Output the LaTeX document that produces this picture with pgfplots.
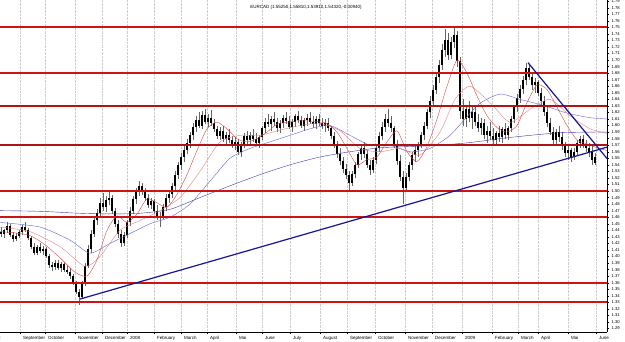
\documentclass[border=0pt]{standalone}
\usepackage{pgfplots}
\usepackage{pgfplotstable}
\pgfplotsset{compat=1.18}
\usepackage{fontspec}
\setmainfont{Liberation Sans}
\definecolor{lvl}{RGB}{205,20,20}
\definecolor{lvldark}{RGB}{175,20,20}
\definecolor{trend}{RGB}{20,20,150}
\definecolor{maredA}{RGB}{220,70,70}
\definecolor{maredB}{RGB}{230,130,130}
\definecolor{mablueA}{RGB}{100,100,210}
\definecolor{mablueB}{RGB}{60,60,170}
\pgfplotstableread{
x o h l c
1 1.438 1.445 1.430 1.434
4 1.434 1.442 1.428 1.440
7 1.440 1.452 1.436 1.447
10 1.447 1.450 1.430 1.433
13 1.433 1.437 1.422 1.427
16 1.427 1.436 1.423 1.432
19 1.432 1.440 1.428 1.437
22 1.437 1.448 1.433 1.445
25 1.445 1.452 1.438 1.441
28 1.441 1.444 1.425 1.428
31 1.428 1.431 1.412 1.415
34 1.415 1.420 1.402 1.406
37 1.406 1.418 1.403 1.414
40 1.414 1.420 1.405 1.409
43 1.409 1.416 1.402 1.412
46 1.412 1.415 1.398 1.401
49 1.401 1.404 1.383 1.387
52 1.387 1.392 1.378 1.384
55 1.384 1.395 1.380 1.390
58 1.390 1.394 1.379 1.382
61 1.382 1.391 1.377 1.388
64 1.388 1.392 1.376 1.380
67 1.380 1.386 1.373 1.377
70 1.377 1.382 1.366 1.370
73 1.370 1.374 1.356 1.360
76 1.360 1.363 1.342 1.346
79 1.346 1.350 1.326 1.338
82 1.338 1.362 1.335 1.358
85 1.358 1.390 1.355 1.386
88 1.386 1.418 1.382 1.412
91 1.412 1.440 1.405 1.435
94 1.435 1.462 1.430 1.455
97 1.455 1.472 1.448 1.466
100 1.466 1.490 1.460 1.482
103 1.482 1.497 1.470 1.475
106 1.475 1.492 1.468 1.486
109 1.486 1.500 1.478 1.490
112 1.490 1.494 1.465 1.470
115 1.470 1.474 1.445 1.450
118 1.450 1.456 1.428 1.434
121 1.434 1.440 1.414 1.420
124 1.420 1.438 1.416 1.433
127 1.433 1.456 1.428 1.452
130 1.452 1.475 1.447 1.470
133 1.470 1.492 1.465 1.488
136 1.488 1.505 1.480 1.500
139 1.500 1.515 1.493 1.508
142 1.508 1.512 1.494 1.498
145 1.498 1.505 1.485 1.490
148 1.490 1.496 1.474 1.478
151 1.478 1.490 1.472 1.485
154 1.485 1.488 1.465 1.470
157 1.470 1.478 1.455 1.460
160 1.460 1.468 1.445 1.462
163 1.462 1.480 1.458 1.476
166 1.476 1.495 1.470 1.490
169 1.490 1.502 1.482 1.496
172 1.496 1.512 1.490 1.508
175 1.508 1.530 1.502 1.525
178 1.525 1.545 1.518 1.540
181 1.540 1.558 1.532 1.552
184 1.552 1.568 1.545 1.563
187 1.563 1.580 1.556 1.574
190 1.574 1.590 1.565 1.585
193 1.585 1.604 1.578 1.598
196 1.598 1.615 1.590 1.608
199 1.608 1.620 1.596 1.600
202 1.600 1.622 1.595 1.616
205 1.616 1.625 1.602 1.606
208 1.606 1.618 1.598 1.612
211 1.612 1.624 1.600 1.604
214 1.604 1.610 1.590 1.594
217 1.594 1.600 1.580 1.584
220 1.584 1.598 1.578 1.592
223 1.592 1.600 1.575 1.580
226 1.580 1.590 1.570 1.586
229 1.586 1.595 1.574 1.578
232 1.578 1.584 1.565 1.570
235 1.570 1.582 1.563 1.575
238 1.575 1.580 1.555 1.560
241 1.560 1.575 1.552 1.570
244 1.570 1.588 1.566 1.584
247 1.584 1.592 1.572 1.578
250 1.578 1.590 1.570 1.586
253 1.586 1.594 1.575 1.580
256 1.580 1.588 1.568 1.574
259 1.574 1.585 1.566 1.582
262 1.582 1.600 1.578 1.596
265 1.596 1.612 1.588 1.606
268 1.606 1.618 1.598 1.602
271 1.602 1.614 1.592 1.610
274 1.610 1.620 1.600 1.605
277 1.605 1.612 1.590 1.596
280 1.596 1.608 1.588 1.604
283 1.604 1.616 1.596 1.612
286 1.612 1.620 1.602 1.607
289 1.607 1.614 1.594 1.598
292 1.598 1.610 1.590 1.606
295 1.606 1.618 1.598 1.614
298 1.614 1.622 1.604 1.608
301 1.608 1.615 1.596 1.600
304 1.600 1.612 1.592 1.608
307 1.608 1.618 1.600 1.612
310 1.612 1.620 1.602 1.606
313 1.606 1.614 1.596 1.602
316 1.602 1.614 1.594 1.610
319 1.610 1.618 1.600 1.604
322 1.604 1.612 1.594 1.600
325 1.600 1.610 1.590 1.604
328 1.604 1.612 1.592 1.596
331 1.596 1.600 1.580 1.584
334 1.584 1.590 1.565 1.570
337 1.570 1.576 1.550 1.556
340 1.556 1.565 1.540 1.546
343 1.546 1.552 1.528 1.534
346 1.534 1.542 1.518 1.524
349 1.524 1.530 1.502 1.512
352 1.512 1.530 1.508 1.526
355 1.526 1.545 1.520 1.540
358 1.540 1.560 1.535 1.556
361 1.556 1.572 1.548 1.566
364 1.566 1.575 1.550 1.556
367 1.556 1.562 1.535 1.540
370 1.540 1.548 1.525 1.532
373 1.532 1.552 1.528 1.548
376 1.548 1.570 1.542 1.565
379 1.565 1.590 1.560 1.584
382 1.584 1.605 1.578 1.598
385 1.598 1.618 1.590 1.610
388 1.610 1.625 1.598 1.604
391 1.604 1.615 1.590 1.596
394 1.596 1.600 1.565 1.572
397 1.572 1.578 1.540 1.546
400 1.546 1.555 1.515 1.522
403 1.522 1.530 1.480 1.505
406 1.505 1.528 1.498 1.522
409 1.522 1.545 1.515 1.540
412 1.540 1.560 1.532 1.555
415 1.555 1.568 1.545 1.562
418 1.562 1.575 1.552 1.570
421 1.570 1.590 1.565 1.585
424 1.585 1.605 1.578 1.600
427 1.600 1.625 1.595 1.620
430 1.620 1.645 1.612 1.638
433 1.638 1.662 1.630 1.655
436 1.655 1.680 1.648 1.674
439 1.674 1.700 1.665 1.692
442 1.692 1.725 1.685 1.715
445 1.715 1.748 1.705 1.730
448 1.730 1.742 1.700 1.708
451 1.708 1.735 1.702 1.728
454 1.728 1.752 1.718 1.738
457 1.738 1.745 1.690 1.698
460 1.698 1.705 1.610 1.622
463 1.622 1.640 1.600 1.610
466 1.610 1.632 1.598 1.625
469 1.625 1.638 1.605 1.612
472 1.612 1.628 1.595 1.620
475 1.620 1.630 1.600 1.606
478 1.606 1.618 1.590 1.596
481 1.596 1.612 1.585 1.604
484 1.604 1.610 1.580 1.586
487 1.586 1.600 1.574 1.592
490 1.592 1.605 1.578 1.584
493 1.584 1.596 1.570 1.578
496 1.578 1.592 1.572 1.588
499 1.588 1.600 1.575 1.582
502 1.582 1.598 1.574 1.594
505 1.594 1.604 1.580 1.586
508 1.586 1.600 1.578 1.596
511 1.596 1.615 1.590 1.610
514 1.610 1.632 1.604 1.628
517 1.628 1.648 1.620 1.642
520 1.642 1.662 1.635 1.656
523 1.656 1.676 1.648 1.670
526 1.670 1.695 1.662 1.688
529 1.688 1.694 1.670 1.674
532 1.674 1.680 1.655 1.662
535 1.662 1.672 1.650 1.666
538 1.666 1.670 1.645 1.650
541 1.650 1.658 1.632 1.638
544 1.638 1.645 1.615 1.620
547 1.620 1.628 1.598 1.604
550 1.604 1.612 1.585 1.590
553 1.590 1.598 1.572 1.578
556 1.578 1.595 1.570 1.590
559 1.590 1.600 1.575 1.582
562 1.582 1.590 1.562 1.568
565 1.568 1.575 1.552 1.558
568 1.558 1.568 1.548 1.562
571 1.562 1.566 1.545 1.552
574 1.552 1.565 1.548 1.560
577 1.560 1.578 1.555 1.574
580 1.574 1.584 1.565 1.580
583 1.580 1.586 1.566 1.572
586 1.572 1.578 1.560 1.566
589 1.566 1.574 1.552 1.560
592 1.560 1.568 1.540 1.548
595 1.552 1.558 1.539 1.543
}\candles
\begin{document}
\begin{tikzpicture}[x=1pt,y=1pt]
\path[use as bounding box] (0,-9pt) rectangle (625pt,332pt);
\begin{axis}[
  at={(0,0)}, anchor=south west,
  scale only axis, width=607pt, height=332pt,
  xmin=0, xmax=607, ymin=1.2847, ymax=1.7917,
  axis x line*=bottom, axis y line*=right,
  axis line style={black, line width=0.4pt},
  clip=true,
  tick align=outside,
  major tick length=2pt, minor tick length=1.2pt,
  ytick distance=0.01,
  yticklabel style={font=\fontsize{4.2}{5}\selectfont, xshift=-1pt,
    /pgf/number format/.cd, fixed, fixed zerofill, precision=2, assume math mode=true},
  xtick={20,45,75,102,127,154,181,207,236,262,290,320,347,375,405,432,462,492,518,538,568,596},
  xticklabels={September,October,November,December,2008,February,March,April,Mai,June,July,August,September,October,November,December,2009,February,March,April,Mai,June},
  xticklabel style={font=\fontsize{4.5}{5}\selectfont, anchor=north west, xshift=-0.5pt, yshift=1.5pt},
  minor xtick={3,9.5,...,607},
  xmajorgrids=true,
  major grid style={gray!40, densely dotted, line width=0.4pt},
  every tick/.style={black, line width=0.3pt},
]
% candles: wicks
\addplot[draw=none, mark=none, forget plot,
  error bars/.cd, y dir=both, y explicit, error mark=none,
  error bar style={draw=gray!80!black, line width=0.45pt}]
  table[x=x, y=o, y error plus expr=\thisrow{h}-\thisrow{o}, y error minus expr=\thisrow{o}-\thisrow{l}] {\candles};
% candles: bodies
\addplot[draw=none, mark=none, forget plot,
  error bars/.cd, y dir=both, y explicit, error mark=none,
  error bar style={draw=black, line width=1.4pt}]
  table[x=x, y=o, y error plus expr={max(\thisrow{c}-\thisrow{o},0)}, y error minus expr={max(\thisrow{o}-\thisrow{c},0)}] {\candles};
% moving averages
\addplot[mablueB, line width=0.4pt, smooth, tension=0.4] coordinates {
(0,1.470)(40,1.469)(80,1.466)(110,1.465)(140,1.466)(170,1.472)(200,1.490)(230,1.508)(260,1.525)(290,1.540)(320,1.552)(350,1.560)(380,1.566)(410,1.568)(440,1.570)(470,1.574)(500,1.580)(530,1.585)(560,1.589)(590,1.590)(607,1.590)};
\addplot[mablueA, line width=0.4pt, smooth, tension=0.4] coordinates {
(0,1.452)(40,1.445)(70,1.425)(90,1.405)(110,1.420)(130,1.435)(150,1.450)(170,1.460)(190,1.480)(210,1.515)(230,1.550)(250,1.565)(270,1.575)(290,1.585)(310,1.595)(330,1.600)(350,1.585)(370,1.570)(390,1.570)(410,1.560)(430,1.565)(450,1.585)(465,1.610)(480,1.634)(500,1.648)(520,1.640)(545,1.630)(567,1.619)(590,1.612)(607,1.610)};
\addplot[maredB, line width=0.4pt, smooth, tension=0.4] coordinates {
(0,1.445)(30,1.438)(60,1.415)(85,1.385)(100,1.400)(120,1.440)(140,1.455)(160,1.470)(180,1.490)(200,1.530)(220,1.575)(240,1.585)(260,1.585)(280,1.593)(300,1.600)(320,1.603)(340,1.592)(360,1.565)(380,1.560)(400,1.565)(420,1.555)(440,1.590)(455,1.640)(470,1.660)(490,1.635)(510,1.605)(530,1.625)(550,1.640)(570,1.615)(590,1.595)(607,1.588)};
\addplot[maredA, line width=0.4pt, smooth, tension=0.4] coordinates {
(0,1.438)(15,1.436)(30,1.432)(45,1.418)(60,1.398)(75,1.376)(87,1.370)(97,1.395)(107,1.440)(117,1.462)(127,1.452)(137,1.465)(147,1.488)(157,1.482)(167,1.475)(177,1.495)(187,1.525)(197,1.562)(207,1.595)(217,1.605)(227,1.595)(237,1.580)(247,1.575)(257,1.580)(267,1.590)(277,1.602)(287,1.605)(297,1.607)(307,1.607)(317,1.606)(327,1.603)(337,1.590)(347,1.565)(357,1.540)(367,1.548)(377,1.552)(387,1.575)(397,1.592)(407,1.560)(417,1.545)(427,1.568)(437,1.610)(447,1.660)(457,1.700)(467,1.680)(477,1.645)(487,1.615)(497,1.597)(507,1.590)(517,1.600)(527,1.635)(537,1.662)(547,1.655)(557,1.628)(567,1.600)(577,1.578)(587,1.572)(597,1.566)(607,1.562)};
% horizontal levels
\addplot[lvl, line width=2pt] coordinates {(0,1.75)(607,1.75)};
\addplot[lvl, line width=2pt] coordinates {(0,1.68)(607,1.68)};
\addplot[lvldark, line width=2.4pt] coordinates {(0,1.63)(607,1.63)};
\addplot[lvldark, line width=2.4pt] coordinates {(0,1.57)(607,1.57)};
\addplot[lvl, line width=2pt] coordinates {(0,1.50)(607,1.50)};
\addplot[lvl, line width=2pt] coordinates {(0,1.46)(607,1.46)};
\addplot[lvl, line width=2pt] coordinates {(0,1.36)(607,1.36)};
\addplot[lvl, line width=2pt] coordinates {(0,1.33)(607,1.33)};
% trend lines
\addplot[trend, line width=1.2pt] coordinates {(80,1.335)(607,1.567)};
\addplot[trend, line width=1.2pt] coordinates {(528,1.696)(607,1.5496)};
\end{axis}
\node[font=\fontsize{4.5}{5}\selectfont, anchor=north] at (306pt,330pt) {EURCAD (1.55250,1.55810,1.53910,1.54320,-0.00940)};
\node[font=\fontsize{4.5}{5}\selectfont, anchor=north west] at (-17pt,-0.5pt) {August};
\end{tikzpicture}
\end{document}
